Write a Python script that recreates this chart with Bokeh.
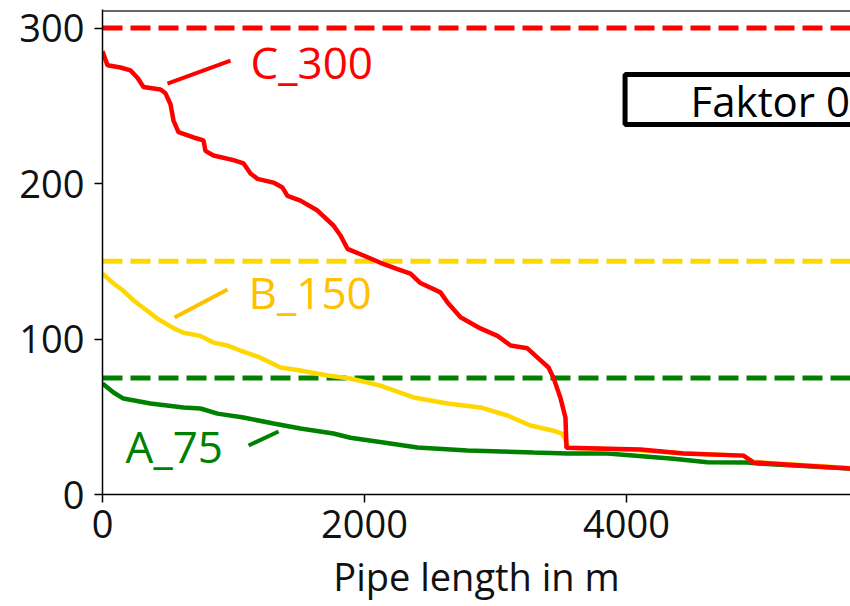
from bokeh.plotting import figure
from bokeh.models import Span, Range1d, FixedTicker, Label
from bokeh.embed import file_html
from bokeh.resources import INLINE

# ---- data ----
c_x = [0, 38, 137, 214, 267, 313, 443, 481, 519, 542, 580, 695, 771, 786, 847, 1000, 1076,
       1130, 1183, 1305, 1374, 1412, 1511, 1641, 1763, 1817, 1870, 1992, 2122, 2252, 2351,
       2427, 2580, 2634, 2733, 2885, 3015, 3115, 3244, 3321, 3405, 3443, 3496, 3534, 3542,
       4107, 4435, 4893, 4969, 5710]
c_y = [285, 276, 274.6, 272.7, 268, 262, 260.5, 258, 251, 240.5, 233, 229.6, 227.7, 221, 218,
       215, 213, 206.4, 203, 200.6, 197.4, 192, 189, 182.6, 173, 166.6, 158, 153.7, 149, 145,
       142, 136, 130, 123.5, 114, 106.8, 102, 95.8, 94, 88, 81.7, 75, 62, 49.5, 30,
       29, 26.4, 25, 20.6, 16.7]

b_x = [0, 84, 160, 237, 344, 420, 542, 618, 748, 847, 954, 1053, 1206, 1359, 1511, 1718,
       1893, 2122, 2374, 2634, 2885, 3092, 3267, 3443, 3511, 3560, 4100, 4435, 4893, 4969, 5710]
b_y = [142, 135.7, 131, 124.8, 118, 113, 107, 104, 102, 97.7, 95.8, 92.6, 88, 81.7, 79.7, 76.5,
       74.6, 70, 62.4, 58.5, 56, 50.8, 44.4, 41, 39, 30, 28.5, 26.5, 25, 21, 17]

a_x = [0, 84, 160, 366, 618, 748, 878, 1076, 1305, 1511, 1763, 1893, 2145, 2405, 2786, 3290,
       3550, 3855, 4359, 4618, 4924, 5000, 5710]
a_y = [71.4, 65.6, 61.7, 58.5, 56, 55.3, 52, 49.5, 45.7, 42.4, 39.2, 36.5, 33.4, 30.2, 28.3,
       27, 26.4, 26.4, 23, 20.8, 20.6, 20, 16.7]

limits = [300, 150, 75]
limit_colors = ["#FF0000", "#FFD700", "#008000"]
series_names = ["C_300", "B_150", "A_75"]
label_colors = ["#FF0000", "#FFC000", "#008000"]
x_ticks = [0, 2000, 4000]
y_ticks = [0, 100, 200, 300]
box_text = "Faktor 0"

FONT = "Open Sans"

p = figure(width=850, height=606, output_backend="svg", toolbar_location=None,
           x_range=Range1d(0, 5710), y_range=Range1d(0, 311.9),
           min_border_left=102, min_border_right=0, min_border_top=9, min_border_bottom=112)
p.grid.visible = False
p.outline_line_color = None
p.background_fill_color = "white"
p.border_fill_color = "white"

# axes
for ax in (p.xaxis[0], p.yaxis[0]):
    ax.axis_line_color = "black"
    ax.axis_line_width = 1.5
    ax.major_tick_line_color = "black"
    ax.major_tick_line_width = 1.5
    ax.major_tick_in = 0
    ax.major_tick_out = 8
    ax.minor_tick_line_color = None
    ax.major_label_text_font = FONT
    ax.major_label_text_font_size = "38px"
    ax.major_label_text_color = "#111111"
p.xaxis[0].ticker = FixedTicker(ticks=x_ticks)
p.yaxis[0].ticker = FixedTicker(ticks=y_ticks)
p.xaxis[0].major_label_standoff = 7
p.yaxis[0].major_label_standoff = 10
p.xaxis[0].axis_label = "Pipe length in m"
p.xaxis[0].axis_label_text_font = FONT
p.xaxis[0].axis_label_text_font_size = "38px"
p.xaxis[0].axis_label_text_font_style = "normal"
p.xaxis[0].axis_label_text_color = "#111111"
p.xaxis[0].axis_label_standoff = 9

# top border
p.add_layout(Span(location=311, dimension="width", line_color="#333333", line_width=1.5))

# limit lines
for lim, col in zip(limits, limit_colors):
    p.add_layout(Span(location=lim, dimension="width", line_color=col, line_width=5,
                      line_dash="20 8", level="underlay"))

# curves
p.line(a_x, a_y, line_color="#008000", line_width=4.5)
p.line(b_x, b_y, line_color="#FFD700", line_width=4.5)
p.line(c_x, c_y, line_color="#FF0000", line_width=4.5)

# leader lines
p.segment(x0=[496, 550, 1115], y0=[264.3, 113.8, 31.5],
          x1=[977, 954, 1344], y1=[279, 131.8, 40.5],
          line_color=label_colors, line_width=4)

# series labels
for name, col, lx, ly in zip(series_names, label_colors, [1130, 1115, 176], [278, 130.5, 31]):
    p.add_layout(Label(x=lx, y=ly, text=name, text_color=col, text_font=FONT,
                       text_font_size="44px", text_baseline="middle", text_align="left"))

# Faktor box
p.quad(left=[3989], right=[6500], top=[270.1], bottom=[237.9], fill_color="white",
       line_color="black", line_width=5)
p.add_layout(Label(x=4489, y=253.4, text=box_text, text_color="black", text_font=FONT,
                   text_font_size="42px", text_baseline="middle", text_align="left"))

open("out.html", "w").write(file_html(p, INLINE))
